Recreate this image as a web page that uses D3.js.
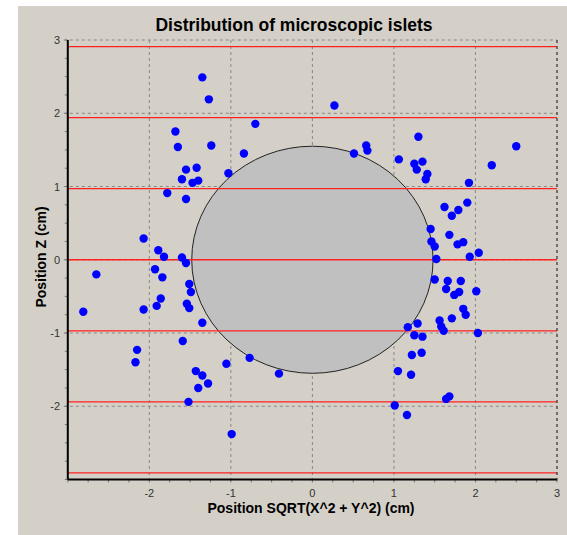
<!DOCTYPE html>
<html>
<head>
<meta charset="utf-8">
<script src="https://cdn.jsdelivr.net/npm/d3@7"></script>
<style>
  body { margin: 0; background: #fff; }
  text { font-family: "Liberation Sans", Arial, sans-serif; }
</style>
</head>
<body>
<div id="viz"></div>
<script>
// islet positions: radial distance (cm) and z (cm)
var islet_r = [
  -1.68, -1.65, -1.55, -1.60, -1.78, -1.55, -2.07, -1.89, -1.82, -1.60,
  -1.35, -1.27, -0.70, -1.24, -0.84, -1.42, -1.03, -1.40, -1.47,
  0.27, 0.66, 0.675, 0.51, 1.30, 1.06, 1.25, 1.35, 1.28, 1.41, 1.39,
  2.50, 2.20, 1.92, 1.62, 1.90, 1.79, 1.71, 1.45, 1.68, 1.46, 1.50, 1.78, 1.85, 2.04, 1.93, 1.52,
  -1.55, -2.65, -1.93, -1.84, -1.51, -1.49, -1.86, -1.91, -1.54, -1.51, -2.81, -2.07, -1.59, -2.15, -2.17, -1.52,
  -1.35, -0.77, -0.41, -1.055, -1.43, -1.35, -1.28, -1.40, -0.99,
  1.17, 1.29, 1.25, 1.35, 1.22, 1.34, 1.05, 1.21, 1.01, 1.16,
  1.50, 1.66, 1.82, 1.64, 1.74, 1.80, 2.01, 1.85, 1.88, 1.71, 1.56, 1.58, 1.61, 2.03, 1.68, 1.64
];
var islet_z = [
  1.75, 1.54, 1.23, 1.10, 0.91, 0.83, 0.29, 0.13, 0.04, 0.03,
  2.49, 2.19, 1.855, 1.56, 1.45, 1.255, 1.18, 1.08, 1.05,
  2.105, 1.56, 1.49, 1.45, 1.68, 1.37, 1.31, 1.34, 1.23, 1.17, 1.10,
  1.55, 1.29, 1.05, 0.72, 0.78, 0.68, 0.60, 0.42, 0.34, 0.25, 0.18, 0.21, 0.24, 0.095, 0.04, 0.01,
  -0.045, -0.20, -0.13, -0.24, -0.33, -0.44, -0.53, -0.63, -0.60, -0.66, -0.71, -0.68, -1.11, -1.23, -1.40, -1.94,
  -0.86, -1.34, -1.555, -1.42, -1.52, -1.58, -1.69, -1.75, -2.38,
  -0.92, -0.87, -1.03, -1.05, -1.30, -1.27, -1.52, -1.57, -1.99, -2.12,
  -0.27, -0.29, -0.29, -0.40, -0.48, -0.44, -0.43, -0.67, -0.75, -0.80, -0.83, -0.91, -0.97, -1.00, -1.865, -1.90
];

var x_ticks = [-2, -1, 0, 1, 2, 3];
var y_ticks = [-2, -1, 0, 1, 2, 3];
var red_levels = [-2.91, -1.94, -0.97, 0, 0.97, 1.94, 2.91];
// central region (ellipse radii in cm)
var core_rx = 1.48, core_rz = 1.55;

var width = 567, height = 535;
var svg = d3.select("#viz").append("svg").attr("width", width).attr("height", height);

svg.append("rect").attr("x", 18).attr("y", 6).attr("width", width - 18).attr("height", height - 6)
    .style("fill", "#d4d0c8");

var x = d3.scaleLinear().domain([-3, 3]).range([67.8, 557]);
var y = d3.scaleLinear().domain([-3, 3]).range([479.5, 40]);

// grid
var grid = svg.append("g");
grid.selectAll(".vg").data(x_ticks).enter().append("line")
    .attr("x1", function(d){ return x(d); }).attr("x2", function(d){ return x(d); })
    .attr("y1", y(3)).attr("y2", y(-3) + 4)
    .style("stroke", "#888").style("stroke-dasharray", "3,3");
grid.selectAll(".hg").data(y_ticks).enter().append("line")
    .attr("y1", function(d){ return y(d); }).attr("y2", function(d){ return y(d); })
    .attr("x1", x(-3) - 4).attr("x2", x(3))
    .style("stroke", "#888").style("stroke-dasharray", "3,3");

// minor ticks
var minor = d3.range(-3, 3.01, 0.25);
svg.selectAll(".mx").data(minor).enter().append("line")
    .attr("x1", function(d){ return x(d); }).attr("x2", function(d){ return x(d); })
    .attr("y1", y(-3)).attr("y2", y(-3) + 3)
    .style("stroke", "#777");
svg.selectAll(".my").data(minor).enter().append("line")
    .attr("y1", function(d){ return y(d); }).attr("y2", function(d){ return y(d); })
    .attr("x1", x(-3) - 3).attr("x2", x(-3))
    .style("stroke", "#777");

// core
svg.append("ellipse")
    .attr("cx", x(0)).attr("cy", y(0))
    .attr("rx", x(core_rx) - x(0)).attr("ry", y(0) - y(core_rz))
    .style("fill", "#c0c0c0").style("stroke", "#222").style("stroke-width", 1);

// red levels
svg.selectAll(".red").data(red_levels).enter().append("line")
    .attr("y1", function(d){ return y(d); }).attr("y2", function(d){ return y(d); })
    .attr("x1", x(-3)).attr("x2", x(3))
    .style("stroke", "#ff2020").style("stroke-width", 1.3);

// axes frame
svg.append("line").attr("x1", x(-3)).attr("x2", x(-3)).attr("y1", y(3)).attr("y2", y(-3))
    .style("stroke", "#000").style("stroke-width", 2);
svg.append("line").attr("x1", x(-3)).attr("x2", x(3)).attr("y1", y(-3)).attr("y2", y(-3))
    .style("stroke", "#000").style("stroke-width", 2);
svg.append("line").attr("x1", x(3)).attr("x2", x(3)).attr("y1", y(3)).attr("y2", y(-3))
    .style("stroke", "#333").style("stroke-dasharray", "3,3");

// points
svg.selectAll(".pt").data(d3.range(islet_r.length)).enter().append("circle")
    .attr("cx", function(i){ return x(islet_r[i]); })
    .attr("cy", function(i){ return y(islet_z[i]); })
    .attr("r", 4.2)
    .style("fill", "#0000ff");

// tick labels
svg.selectAll(".xl").data(x_ticks).enter().append("text")
    .attr("x", function(d){ return x(d); }).attr("y", 497)
    .attr("text-anchor", "middle").style("font-size", "11px").style("fill", "#333")
    .text(function(d){ return d; });
svg.selectAll(".yl").data(y_ticks).enter().append("text")
    .attr("x", 60).attr("y", function(d){ return y(d) + 4; })
    .attr("text-anchor", "end").style("font-size", "11px").style("fill", "#333")
    .text(function(d){ return d; });

// titles
svg.append("text").attr("x", 294).attr("y", 31).attr("text-anchor", "middle")
    .style("font-size", "17.5px").style("font-weight", "bold")
    .text("Distribution of microscopic islets");
svg.append("text").attr("x", 311).attr("y", 513).attr("text-anchor", "middle")
    .style("font-size", "14px").style("font-weight", "bold")
    .text("Position SQRT(X^2 + Y^2) (cm)");
svg.append("text").attr("transform", "translate(46,257) rotate(-90)")
    .attr("text-anchor", "middle")
    .style("font-size", "14px").style("font-weight", "bold")
    .text("Position Z (cm)");
</script>
</body>
</html>
